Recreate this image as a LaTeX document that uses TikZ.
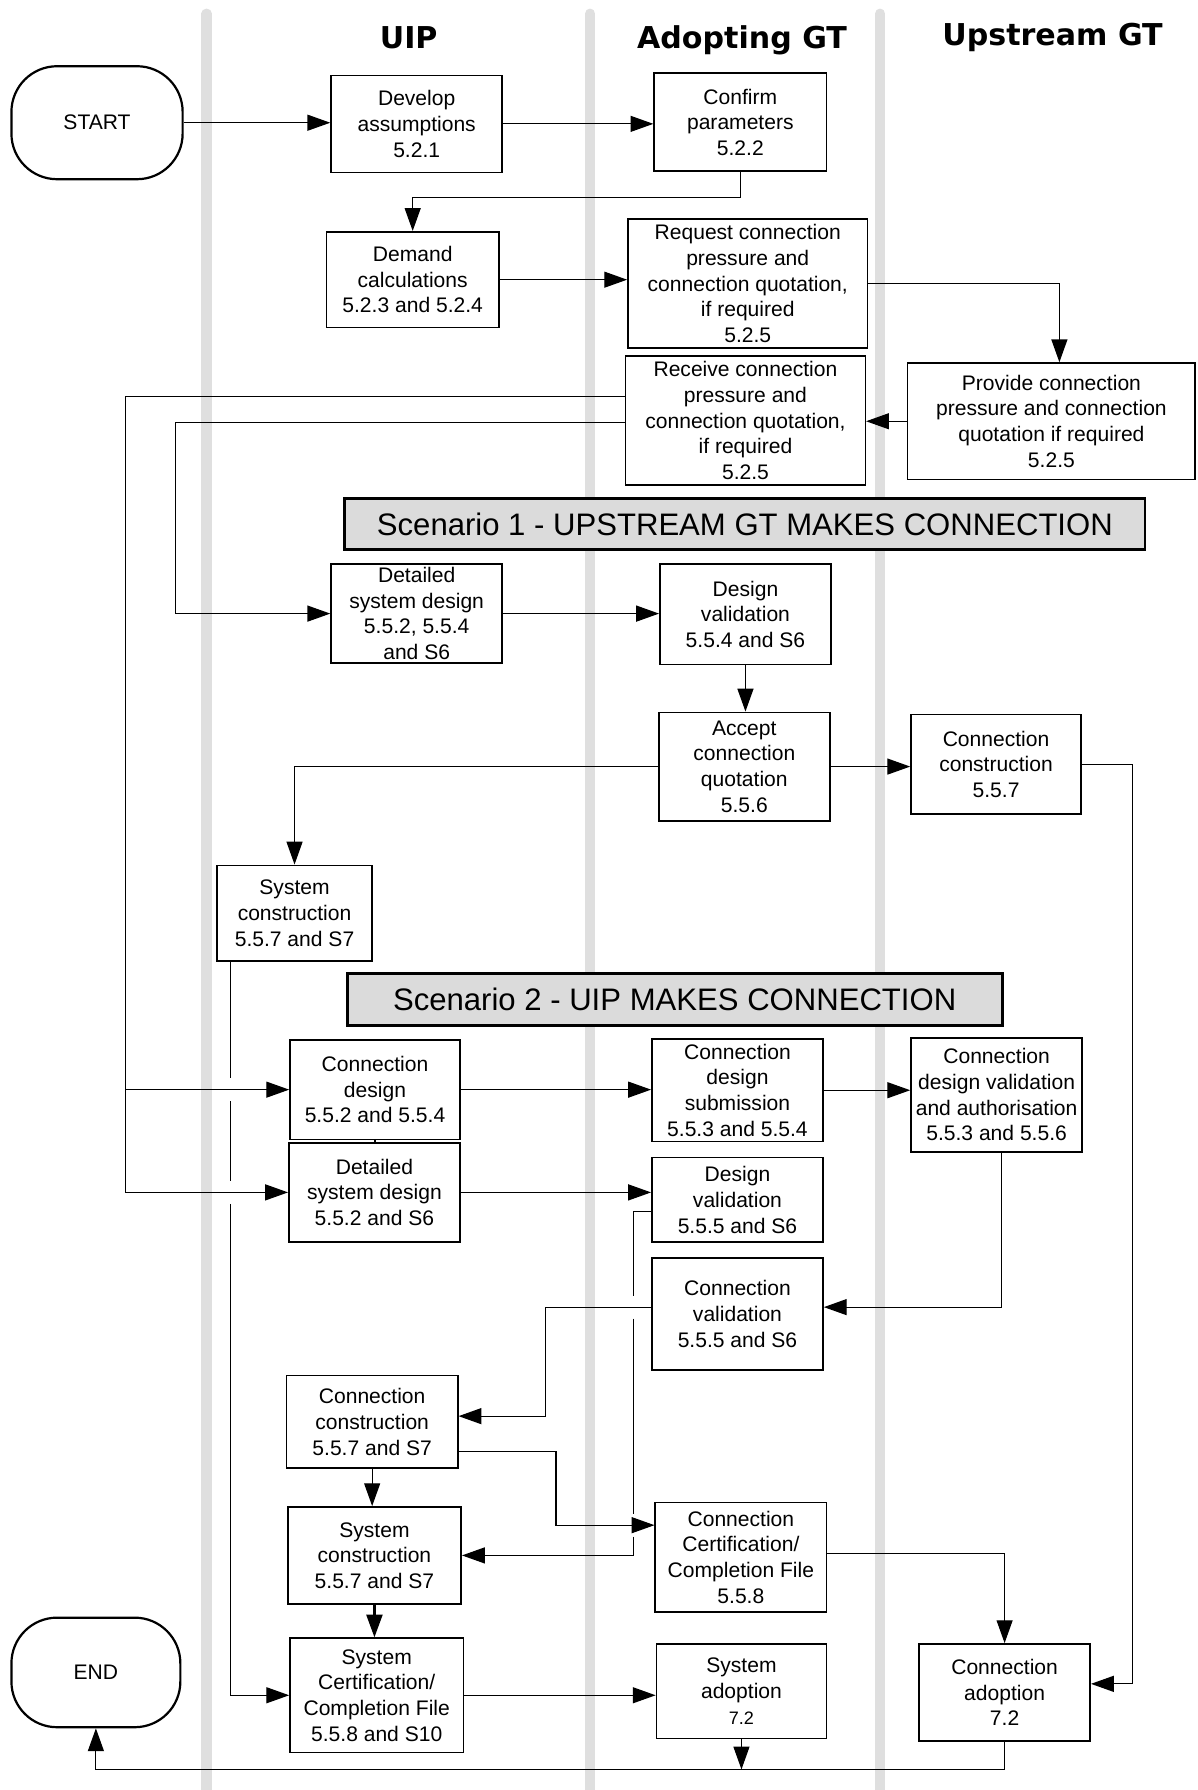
\documentclass[tikz,border=0pt]{standalone}
\usepackage{fontspec}
\setmainfont{Liberation Sans}
\newfontfamily\headfont{DejaVu Sans}
\usetikzlibrary{arrows.meta}

\begin{document}
\begin{tikzpicture}[x=0.02cm, y=-0.02cm, font=\fontsize{10.5}{12.8}\selectfont,
	lane/.style={line width=0.18cm, color=gray!25, line cap=round},
	head/.style={font=\headfont\bfseries\fontsize{15}{18}\selectfont},
	box/.style={draw, line width=0.8pt, fill=white, align=center, inner sep=0pt},
	term/.style={box, line width=1.1pt, rounded corners=0.8cm},
	banner/.style={draw, line width=1.4pt, fill=gray!28, inner sep=0pt, font=\fontsize{15.5}{18}\selectfont},
	arr/.style={line width=0.6pt, -{Triangle[length=4mm, width=2.8mm]}},
	link/.style={line width=0.6pt}]
	\useasboundingbox (0,0) rectangle (1049,1568);
	\foreach \x in {181,517,771} \draw[lane] (\x,12) -- (\x,1568);

	\node[head] (hUIP) at (358,33) {UIP};
	\node[head] (hAdopt) at (650,35) {Adopting GT};
	\node[head] (hUp) at (922,33) {Upstream GT};

	\node[term, minimum width=3cm, minimum height=1.98cm] (startbox) at (85,107.5) {START};
	\node[box, minimum width=3cm, minimum height=1.7cm] (dev) at (365,108.5) {Develop\\assumptions\\5.2.1};
	\node[box, minimum width=3.02cm, minimum height=1.72cm] (conf) at (648.5,107) {Confirm\\parameters\\5.2.2};
	\node[box, minimum width=3.02cm, minimum height=1.68cm] (dem) at (361.5,245) {Demand\\calculations\\5.2.3 and 5.2.4};
	\node[box, minimum width=4.2cm, minimum height=2.26cm] (req) at (655,248.5) {Request connection\\pressure and\\connection quotation,\\if required\\5.2.5};
	\node[box, minimum width=5.04cm, minimum height=2.04cm] (prov) at (921,369) {Provide connection\\pressure and connection\\quotation if required\\5.2.5};
	\node[box, minimum width=4.2cm, minimum height=2.26cm] (rec) at (653,368.5) {Receive connection\\pressure and\\connection quotation,\\if required\\5.2.5};
	\node[banner, minimum width=14.02cm, minimum height=0.88cm] (scenA) at (652.5,459) {Scenario 1 - UPSTREAM GT MAKES CONNECTION};
	\node[box, minimum width=3cm, minimum height=1.74cm] (dsd1) at (365,537.5) {Detailed\\system design\\5.5.2, 5.5.4\\and S6};
	\node[box, minimum width=3cm, minimum height=1.76cm] (dv1) at (653,538) {Design\\validation\\5.5.4 and S6};
	\node[box, minimum width=3cm, minimum height=1.9cm] (acc) at (652,671.5) {Accept\\connection\\quotation\\5.5.6};
	\node[box, minimum width=2.98cm, minimum height=1.74cm] (cc1) at (872.5,669.5) {Connection\\construction\\5.5.7};
	\node[box, minimum width=2.72cm, minimum height=1.68cm] (sys1) at (258,800) {System\\construction\\5.5.7 and S7};
	\node[banner, minimum width=11.48cm, minimum height=0.9cm] (scenB) at (591,875.5) {Scenario 2 - UIP MAKES CONNECTION};
	\node[box, minimum width=2.98cm, minimum height=1.74cm] (cd) at (328.5,954.5) {Connection\\design\\5.5.2 and 5.5.4};
	\node[box, minimum width=3cm, minimum height=1.74cm] (dsd2) at (328,1044.5) {Detailed\\system design\\5.5.2 and S6};
	\node[box, minimum width=3cm, minimum height=1.8cm] (cds) at (646,955) {Connection\\design\\submission\\5.5.3 and 5.5.4};
	\node[box, minimum width=3cm, minimum height=2cm] (cdv) at (873,959) {Connection\\design validation\\and authorisation\\5.5.3 and 5.5.6};
	\node[box, minimum width=3cm, minimum height=1.48cm] (dv2) at (646,1051) {Design\\validation\\5.5.5 and S6};
	\node[box, minimum width=3cm, minimum height=1.96cm] (cv) at (646,1151) {Connection\\validation\\5.5.5 and S6};
	\node[box, minimum width=3cm, minimum height=1.62cm] (cc2) at (326,1245.5) {Connection\\construction\\5.5.7 and S7};
	\node[box, minimum width=3.04cm, minimum height=1.7cm] (sys2) at (328,1362.5) {System\\construction\\5.5.7 and S7};
	\node[box, minimum width=3cm, minimum height=1.92cm] (ccf) at (649,1364) {Connection\\Certification/\\Completion File\\5.5.8};
	\node[box, minimum width=3.04cm, minimum height=2cm] (scf) at (330,1485) {System\\Certification/\\Completion File\\5.5.8 and S10};
	\node[box, minimum width=2.98cm, minimum height=1.66cm] (sa) at (649.5,1481.5) {System\\adoption\\{\fontsize{9}{11}\selectfont 7.2}};
	\node[box, minimum width=3cm, minimum height=1.7cm] (ca) at (880,1482.5) {Connection\\adoption\\7.2};
	\node[term, minimum width=2.96cm, minimum height=1.92cm] (endbox) at (84,1465) {END};

	\draw[arr] (startbox.east) -- (startbox.east -| dev.west);
	\draw[arr] (dev.east) -- (dev.east -| conf.west);
	\draw[arr] (conf.south) -- ++(0,22) -| (dem.north);
	\draw[arr] (dem.east) -- (dem.east -| req.west);
	\draw[arr] (req.east) -| ([xshift=.14cm]prov.north);
	\draw[arr] (prov.west) -- (prov.west -| rec.east);
	\coordinate (feedL) at (110,347);
	\coordinate (feedD) at (154,370);
	\draw[link] (rec.west |- feedL) -- (feedL);
	\draw[arr] (feedL) |- (dsd2.west);
	\draw[arr] (feedL |- cd.west) -- (cd.west);
	\draw[arr] (rec.west |- feedD) -- (feedD) |- (dsd1.west);
	\draw[arr] (dsd1.east) -- (dsd1.east -| dv1.west);
	\draw[arr] (dv1.south) -- (dv1.south |- acc.north);
	\draw[arr] (acc.east) -- (acc.east -| cc1.west);
	\coordinate (rightL) at (992,0);
	\draw[arr] (cc1.east) -- (cc1.east -| rightL) |- ([yshift=.15cm]ca.east);
	\draw[arr] (acc.west) -| (sys1.north);

	\coordinate (sysL) at ([xshift=-1.12cm]sys1.south);
	\coordinate (jmpA) at (sysL |- cd.west);
	\coordinate (jmpB) at (sysL |- dsd2.west);
	\draw[link] (sysL) -- ([yshift=.2cm]jmpA);
	\draw[link] ([yshift=-.2cm]jmpA) -- ([yshift=.2cm]jmpB);
	\draw[arr] ([yshift=-.2cm]jmpB) |- (scf.west);

	\draw[arr] (cd.east) -- (cd.east -| cds.west);
	\draw[arr] (cds.east) -- (cds.east -| cdv.west);
	\draw[link] (cd.south) -- (cd.south |- dsd2.north);
	\draw[arr] (dsd2.east) -- (dsd2.east -| dv2.west);
	\coordinate (cvE) at ([yshift=.12cm]cv.east);
	\draw[arr] ([xshift=.08cm]cdv.south) |- (cvE);
	\coordinate (cvW) at ([yshift=.12cm]cv.west);
	\coordinate (midC) at (478,0);
	\draw[arr] (cvW) -- (cvW -| midC) |- ([yshift=.1cm]cc2.east);
	\draw[arr] (cc2.south) -- (cc2.south |- sys2.north);
	\draw[arr, line width=1.2pt] (sys2.south) -- (sys2.south |- scf.north);

	\coordinate (cc2E) at ([yshift=-.52cm]cc2.east);
	\coordinate (midE) at (487,0);
	\coordinate (ccfW) at ([yshift=.56cm]ccf.west);
	\draw[arr] (cc2E) -- (cc2E -| midE) |- (ccfW);

	\coordinate (dvW) at ([yshift=-.2cm]dv2.west);
	\coordinate (dvL) at (555,0);
	\coordinate (jmpC) at (dvL |- cvW);
	\coordinate (jmpD) at (dvL |- ccfW);
	\draw[link] (dvW) -- (dvW -| dvL) -- ([yshift=.2cm]jmpC);
	\draw[link] ([yshift=-.2cm]jmpC) -- ([yshift=.2cm]jmpD);
	\draw[arr] ([yshift=-.2cm]jmpD) |- (sys2.east);

	\draw[arr] ([yshift=.06cm]ccf.east) -| (ca.north);
	\draw[arr] (scf.east) -- (scf.east -| sa.west);
	\coordinate (botL) at (0,1550);
	\draw[arr] (ca.south) -- (ca.south |- botL) -| (endbox.south);
	\draw[arr] (sa.south) -- (sa.south |- botL);
\end{tikzpicture}
\end{document}
